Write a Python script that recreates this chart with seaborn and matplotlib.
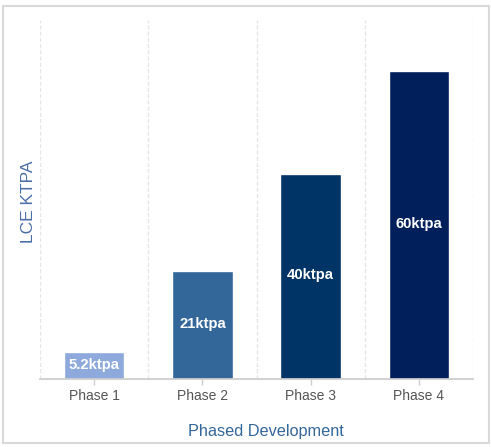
import matplotlib
matplotlib.use("Agg")
import matplotlib.pyplot as plt
import seaborn as sns
import pandas as pd
from matplotlib.patches import Rectangle

phases = ["Phase 1", "Phase 2", "Phase 3", "Phase 4"]
values = [5.2, 21, 40, 60]
labels = ["5.2ktpa", "21ktpa", "40ktpa", "60ktpa"]
colors = ["#8EA9DB", "#336699", "#003366", "#001F5B"]

sns.set_theme(style="white")
plt.rcParams['font.family'] = ['Liberation Sans', 'DejaVu Sans']

df = pd.DataFrame({"phase": phases, "value": values})

fig = plt.figure(figsize=(4.91, 4.47), dpi=100)
ax = fig.add_axes([40/491, 68/447, 433/491, 359/447])

sns.barplot(data=df, x="phase", y="value", hue="phase", palette=colors,
            width=0.56, saturation=1, legend=False, ax=ax)

for i in range(len(phases) + 1):
    ax.axvline(i - 0.5, color="#e6e6e6", lw=1, ls=(0, (3, 1.5)), zorder=0)

for i, (v, lab) in enumerate(zip(values, labels)):
    ax.text(i, v / 2 + 0.2, lab, ha="center", va="center", color="white",
            fontsize=10.7, fontweight="bold")

ax.set_xlim(-0.5, 3.5)
ax.set_ylim(0, 70)
ax.set_yticks([])
for s in ["top", "right", "left"]:
    ax.spines[s].set_visible(False)
ax.spines["bottom"].set_color("#cccccc")
ax.tick_params(axis="x", colors="#cccccc", length=4, width=1, labelcolor="#555555",
               labelsize=10, bottom=True)
ax.set_xlabel("Phased Development", color="#336699", fontsize=11.7)
ax.set_ylabel("LCE KTPA", color="#4a6fa5", fontsize=12.5)
ax.xaxis.set_label_coords((266 - 40) / 433, -45 / 359)
ax.yaxis.set_label_coords(-4 / 433, (379 - 202) / 359)

fig.patches.append(Rectangle((3/491, 4/447), 486/491, 437/447, transform=fig.transFigure,
                             fill=False, edgecolor="#d9d9d9", lw=1.5))

fig.savefig("out.png", dpi=100)
